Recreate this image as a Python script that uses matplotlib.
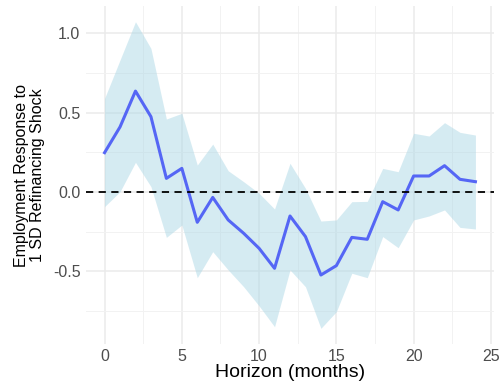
import matplotlib
matplotlib.use("Agg")
import matplotlib.pyplot as plt

# impulse response
horizon = list(range(25))
response = [0.248, 0.41, 0.636, 0.475, 0.086, 0.149, -0.191, -0.034, -0.176, -0.26,
            -0.355, -0.481, -0.151, -0.281, -0.523, -0.464, -0.286, -0.298, -0.061,
            -0.113, 0.101, 0.101, 0.166, 0.08, 0.065]
upper = [0.59, 0.832, 1.073, 0.905, 0.46, 0.496, 0.17, 0.302, 0.134, 0.065,
         -0.008, -0.107, 0.181, 0.023, -0.183, -0.176, -0.061, -0.059, 0.149,
         0.128, 0.37, 0.353, 0.437, 0.376, 0.359]
lower = [-0.092, 0.002, 0.187, 0.034, -0.286, -0.208, -0.54, -0.376, -0.491, -0.597,
         -0.718, -0.849, -0.491, -0.597, -0.859, -0.754, -0.512, -0.54, -0.281,
         -0.351, -0.176, -0.151, -0.113, -0.223, -0.233]

plt.rcParams['font.family'] = ['Liberation Sans', 'DejaVu Sans']

fig = plt.figure(figsize=(5.01, 3.9), dpi=100)
ax = fig.add_axes([0.1717, 0.1187, 0.8143, 0.865])

ax.fill_between(horizon, lower, upper, color='#ADD8E6', alpha=0.5, linewidth=0, zorder=2)
ax.plot(horizon, response, color='#5566F5', linewidth=2.2, zorder=3)
ax.axhline(0, color='black', linestyle=(0, (4, 3)), linewidth=1.3, zorder=4)

ax.set_xlim(-1.2, 25.2)
ax.set_ylim(-0.956, 1.17)
ax.set_xticks([0, 5, 10, 15, 20, 25])
ax.set_xticks([2.5, 7.5, 12.5, 17.5, 22.5], minor=True)
ax.set_yticks([-0.5, 0.0, 0.5, 1.0])
ax.set_yticks([-0.75, -0.25, 0.25, 0.75], minor=True)
ax.set_yticklabels(['-0.5', '0.0', '0.5', '1.0'])

ax.grid(which='major', color='#EBEBEB', linewidth=1.1, zorder=0)
ax.grid(which='minor', color='#F2F2F2', linewidth=0.7, zorder=0)
ax.set_axisbelow(True)
for s in ax.spines.values():
    s.set_visible(False)
ax.tick_params(which='both', length=0, labelsize=11.5, labelcolor='#4D4D4D', pad=4)

ax.set_xlabel('Horizon (months)', fontsize=14, labelpad=0)
ax.set_ylabel('Employment Response to\n1 SD Refinancing Shock', fontsize=11.5, labelpad=6,
              linespacing=1.05)

fig.savefig('out.png', dpi=100)
